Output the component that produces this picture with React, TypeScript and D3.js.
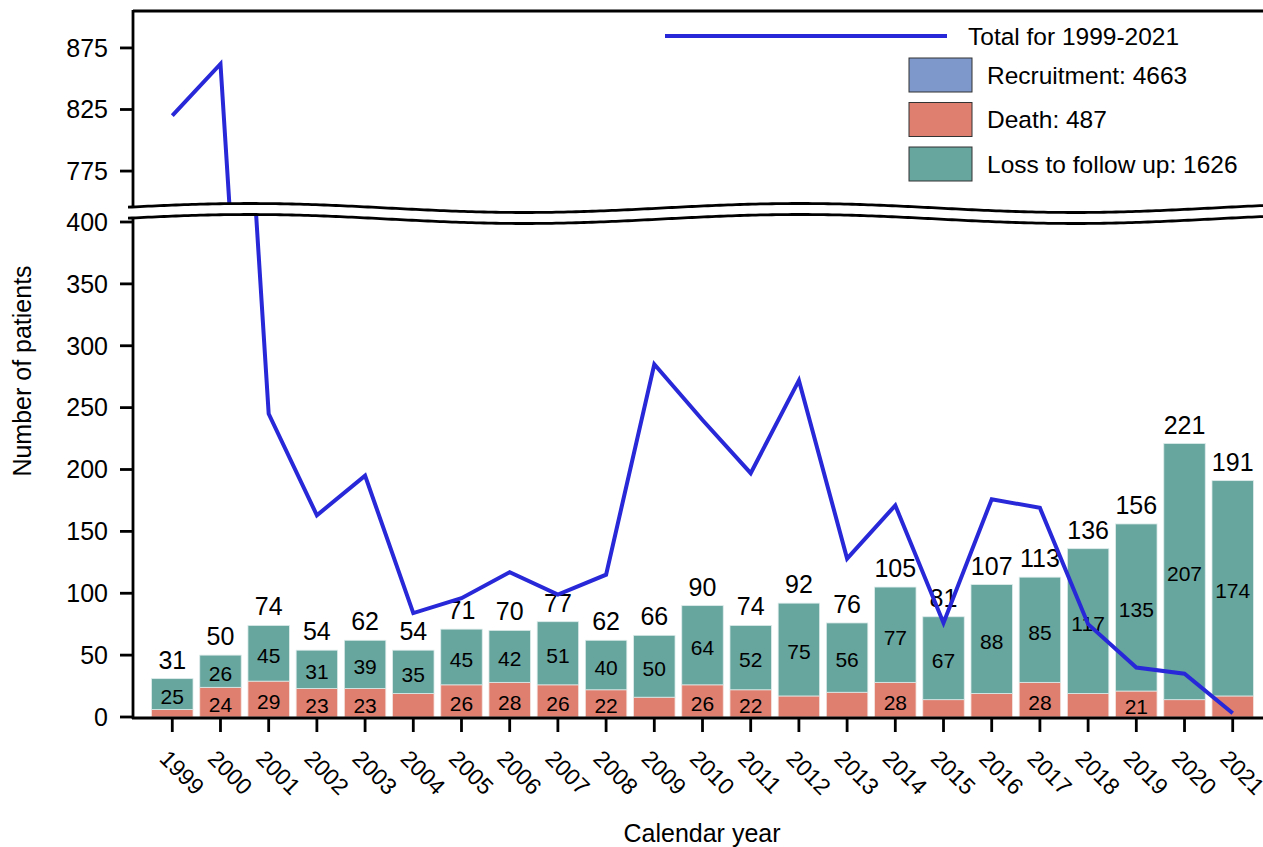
import React from "react";
import * as d3 from "d3";

const years = ["1999","2000","2001","2002","2003","2004","2005","2006","2007","2008","2009","2010","2011","2012","2013","2014","2015","2016","2017","2018","2019","2020","2021"];
const death = [6,24,29,23,23,19,26,28,26,22,16,26,22,17,20,28,14,19,28,19,21,14,17];
const lossToFollowUp = [25,26,45,31,39,35,45,42,51,40,50,64,52,75,56,77,67,88,85,117,135,207,174];
const recruitment = [820,862,245,163,195,84,96,117,99,115,285,240,197,272,128,171,76,176,169,75,40,35,3];
const upperTicks = [775, 825, 875];
const lowerTicks = [0, 50, 100, 150, 200, 250, 300, 350, 400];
const legendItems = [
  { label: "Recruitment: 4663", key: "recruitment" },
  { label: "Death: 487", key: "death" },
  { label: "Loss to follow up: 1626", key: "loss" },
];
const lineLegendLabel = "Total for 1999-2021";

const W = 1263, H = 847;
const left = 133, right = 1272;
const font = "'Liberation Sans', Arial, Helvetica, sans-serif";
const colors: Record<string, string> = {
  recruitment: "#7e98cb",
  death: "#df7f6f",
  loss: "#67a59f",
  line: "#2828d8",
};

const waveBase = 208;
const waveGap = 11;
function waveY(x: number, base: number) {
  return base - 4.5 * Math.cos((2 * Math.PI * (x - 250)) / 550);
}

export default function App() {
  const x = d3.scaleBand<string>().domain(years).range([left, right]).paddingInner(0.14).paddingOuter(0.385);
  const bw = x.bandwidth();
  const cx = (i: number) => (x(years[i]) as number) + bw / 2;
  const yUpper = d3.scaleLinear().domain([745, 905]).range([waveBase, 11]);
  const yLower = d3.scaleLinear().domain([0, 400]).range([717, 222]);

  const xs = d3.range(left - 5, W + 20, 4);
  const upperWave = xs.map((v) => [v, waveY(v, waveBase)] as [number, number]);
  const lowerWave = xs.map((v) => [v, waveY(v, waveBase + waveGap)] as [number, number]);
  const lg = d3.line();
  const upperClip = `M${left},11 L${W + 20},11 L${upperWave[upperWave.length - 1][0]},${upperWave[upperWave.length - 1][1]} ` +
    upperWave.slice().reverse().map((p) => `L${p[0]},${p[1]}`).join(" ") + " Z";
  const lowerClip = `M${lowerWave[0][0]},${lowerWave[0][1]} ` + lowerWave.map((p) => `L${p[0]},${p[1]}`).join(" ") +
    ` L${W + 20},718 L${left},718 Z`;

  const lineUpper = d3.line<number>().x((_, i) => cx(i)).y((d) => yUpper(d));
  const lineLower = d3.line<number>().x((_, i) => cx(i)).y((d) => yLower(d));

  return (
    <svg width={W} height={H} style={{ position: "absolute", left: 0, top: 0, background: "#fff" }} fontFamily={font}>
      <defs>
        <clipPath id="clipUpper"><path d={upperClip} /></clipPath>
        <clipPath id="clipLower"><path d={lowerClip} /></clipPath>
      </defs>

      {/* bars */}
      <g clipPath="url(#clipLower)">
        {years.map((yr, i) => {
          const x0 = x(yr) as number;
          const d = death[i], l = lossToFollowUp[i];
          return (
            <g key={yr}>
              <rect x={x0} y={yLower(d)} width={bw} height={yLower(0) - yLower(d)} fill={colors.death} stroke="#f3e3df" strokeWidth={0.8} />
              <rect x={x0} y={yLower(d + l)} width={bw} height={yLower(d) - yLower(d + l)} fill={colors.loss} stroke="#dcebe9" strokeWidth={0.8} />
            </g>
          );
        })}
      </g>

      {/* bar labels */}
      {years.map((yr, i) => {
        const d = death[i], l = lossToFollowUp[i];
        const c = cx(i);
        return (
          <g key={"lab" + yr} fill="#000">
            {d > 20 && (
              <text x={c} y={(yLower(0) + yLower(d)) / 2 + 2.5} dy="0.35em" textAnchor="middle" fontSize={21}>{d}</text>
            )}
            <text x={c} y={(yLower(d) + yLower(d + l)) / 2 + 2.5} dy="0.35em" textAnchor="middle" fontSize={21}>{l}</text>
            <text x={c} y={yLower(d + l) - 10} textAnchor="middle" fontSize={25}>{d + l}</text>
          </g>
        );
      })}

      {/* line */}
      <g clipPath="url(#clipUpper)">
        <path d={lineUpper(recruitment) || ""} fill="none" stroke={colors.line} strokeWidth={4} strokeLinejoin="miter" />
      </g>
      <g clipPath="url(#clipLower)">
        <path d={lineLower(recruitment) || ""} fill="none" stroke={colors.line} strokeWidth={4} strokeLinejoin="miter" />
      </g>

      {/* frame and break lines */}
      <line x1={left} x2={W + 20} y1={11} y2={11} stroke="#000" strokeWidth={2.8} />
      <path d={lg(upperWave) || ""} fill="none" stroke="#000" strokeWidth={2.8} />
      <path d={lg(lowerWave) || ""} fill="none" stroke="#000" strokeWidth={2.8} />
      <line x1={left} x2={left} y1={10} y2={waveY(left, waveBase)} stroke="#000" strokeWidth={2.8} />
      <line x1={left} x2={left} y1={waveY(left, waveBase + waveGap)} y2={719} stroke="#000" strokeWidth={2.8} />
      <line x1={left - 1} x2={W + 20} y1={718} y2={718} stroke="#000" strokeWidth={3.2} />

      {/* y ticks */}
      {upperTicks.map((t) => (
        <g key={"u" + t}>
          <line x1={120} x2={left} y1={yUpper(t)} y2={yUpper(t)} stroke="#000" strokeWidth={2.8} />
          <text x={108} y={yUpper(t)} dy="0.35em" textAnchor="end" fontSize={25}>{t}</text>
        </g>
      ))}
      {lowerTicks.map((t) => (
        <g key={"l" + t}>
          <line x1={120} x2={left} y1={yLower(t)} y2={yLower(t)} stroke="#000" strokeWidth={2.8} />
          <text x={108} y={yLower(t)} dy="0.35em" textAnchor="end" fontSize={25}>{t}</text>
        </g>
      ))}

      {/* x ticks */}
      {years.map((yr, i) => (
        <g key={"x" + yr}>
          <line x1={cx(i)} x2={cx(i)} y1={718} y2={732} stroke="#000" strokeWidth={2.8} />
          <text transform={`translate(${cx(i) - 14},760) rotate(45)`} fontSize={23}>{yr}</text>
        </g>
      ))}

      {/* axis titles */}
      <text transform="translate(31,371) rotate(-90)" textAnchor="middle" fontSize={25}>Number of patients</text>
      <text x={702} y={842} textAnchor="middle" fontSize={25}>Calendar year</text>

      {/* legend */}
      <line x1={665} x2={947} y1={36} y2={36} stroke={colors.line} strokeWidth={4} />
      <text x={968} y={36} dy="0.35em" fontSize={24.5}>{lineLegendLabel}</text>
      {legendItems.map((it, i) => {
        const ry = 58 + i * 44.5;
        return (
          <g key={it.key}>
            <rect x={909} y={ry} width={63} height={34} fill={colors[it.key]} stroke="#333" strokeWidth={1} />
            <text x={987} y={ry + 17} dy="0.35em" fontSize={24.5}>{it.label}</text>
          </g>
        );
      })}
    </svg>
  );
}
